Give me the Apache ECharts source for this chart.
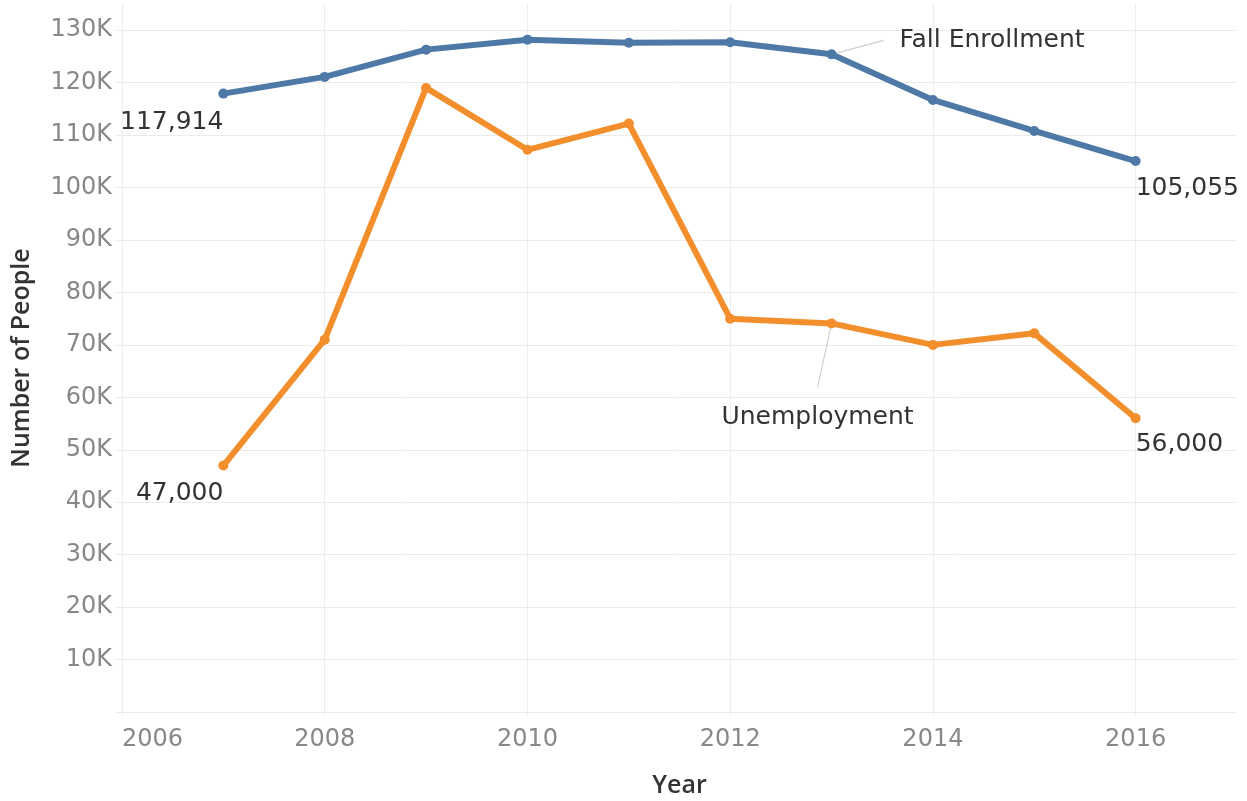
<!DOCTYPE html>
<html>
<head>
<meta charset="utf-8">
<script src="https://cdn.jsdelivr.net/npm/echarts@6/dist/echarts.min.js"></script>
<style>
  html, body { margin: 0; padding: 0; background: #fff; }
  #chart { width: 1247px; height: 801px; }
</style>
</head>
<body>
<div id="chart"></div>
<script>
const years = [2007, 2008, 2009, 2010, 2011, 2012, 2013, 2014, 2015, 2016]
const fallEnrollment = [117914, 121100, 126300, 128200, 127600, 127700, 125400, 116700, 110800, 105055]
const unemployment = [47000, 71000, 119000, 107200, 112200, 75000, 74100, 70000, 72200, 56000]
const yTicks = [0, 10000, 20000, 30000, 40000, 50000, 60000, 70000, 80000, 90000, 100000, 110000, 120000, 130000]
const xTicks = [2006, 2008, 2010, 2012, 2014, 2016]

const numFont = '"DejaVu Sans", sans-serif'
const titleFont = '"Open Sans", "DejaVu Sans", sans-serif'
const gridColor = '#ececec'
const blue = '#4e79a7'
const orange = '#f28e2b'

const fmt = (v) => v.toLocaleString('en-US')

// which point carries which label
const labelOpts = {
  'Fall Enrollment': {
    0: { position: 'bottom', align: 'right', distance: 11 },
    6: { position: 'right', distance: 5, formatter: '  Fall Enrollment', annotation: true },
    9: { position: 'bottom', align: 'left', distance: 10 }
  },
  'Unemployment': {
    0: { position: 'bottom', align: 'right', distance: 10 },
    6: { position: 'bottom', distance: 5, formatter: '{gap| }\n{t|Unemployment}', annotation: true },
    9: { position: 'bottom', align: 'left', distance: 9 }
  }
}
const shifts = {
  'Fall Enrollment': { 6: { dx: 42, dy: -14 } },
  'Unemployment': { 6: { dx: -14, dy: 48 } }
}

function buildData(name, values) {
  const opts = labelOpts[name]
  return years.map((y, i) => {
    const item = { value: [y, values[i]] }
    const o = opts[i]
    if (o) {
      item.label = {
        show: true,
        position: o.position,
        align: o.align,
        distance: o.distance,
        formatter: o.formatter || fmt(values[i]),
        fontFamily: numFont,
        fontSize: 25,
        color: '#333',
        rich: {
          gap: { fontSize: 10, lineHeight: 22 },
          t: { fontFamily: numFont, fontSize: 25, lineHeight: 28, color: '#333' }
        }
      }
      if (o.annotation) {
        item.labelLine = { show: true, length2: 0, lineStyle: { color: '#cfcfcf', width: 1.2 } }
      }
    }
    return item
  })
}

function makeSeries(name, values, color) {
  return {
    name: name,
    type: 'line',
    data: buildData(name, values),
    symbol: 'circle',
    symbolSize: 10,
    showSymbol: true,
    lineStyle: { color: color, width: 6 },
    itemStyle: { color: color },
    label: { show: false },
    labelLayout: (params) => shifts[name][params.dataIndex] || {},
    animation: false
  }
}

const chart = echarts.init(document.getElementById('chart'))
const option = {
  backgroundColor: '#fff',
  animation: false,
  grid: { left: 122, right: 10, top: 4, bottom: 89, outerBoundsMode: 'none' },
  xAxis: {
    type: 'value',
    min: 2006,
    max: 2017,
    interval: 2,
    name: 'Year',
    nameLocation: 'middle',
    nameGap: 61,
    nameTextStyle: { fontFamily: titleFont, fontSize: 25, fontWeight: 600, color: '#333' },
    axisLine: { show: false },
    axisTick: { show: true, length: 4, lineStyle: { color: gridColor } },
    axisLabel: {
      fontFamily: numFont,
      fontSize: 24,
      color: '#888',
      margin: 16,
      alignMinLabel: 'left',
      showMaxLabel: false,
      formatter: (v) => (xTicks.includes(v) ? String(v) : '')
    },
    splitLine: {
      show: true,
      lineStyle: { color: xTicks.map(() => gridColor).concat(['rgba(0,0,0,0)']), width: 1 }
    }
  },
  yAxis: {
    type: 'value',
    min: 0,
    max: 135000,
    interval: 10000,
    name: 'Number of People',
    nameLocation: 'middle',
    nameGap: 88,
    nameTextStyle: { fontFamily: titleFont, fontSize: 25, fontWeight: 600, color: '#333' },
    axisLine: { show: false },
    axisTick: { show: true, length: 7, lineStyle: { color: gridColor } },
    axisLabel: {
      fontFamily: numFont,
      fontSize: 24,
      color: '#888',
      margin: 10,
      showMaxLabel: false,
      formatter: (v) => (v === 0 || !yTicks.includes(v) ? '' : v / 1000 + 'K')
    },
    splitLine: {
      show: true,
      lineStyle: { color: yTicks.map(() => gridColor).concat(['rgba(0,0,0,0)']), width: 1 }
    }
  },
  series: [
    makeSeries('Fall Enrollment', fallEnrollment, blue),
    makeSeries('Unemployment', unemployment, orange)
  ]
}
chart.setOption(option)
</script>
</body>
</html>
